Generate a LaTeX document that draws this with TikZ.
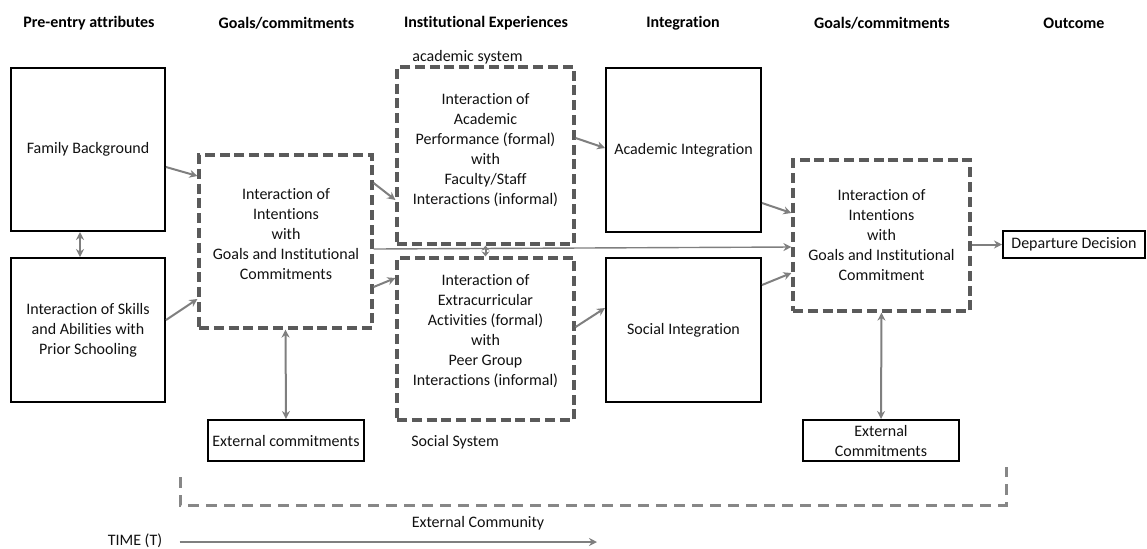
\documentclass[tikz,border=0pt]{standalone}
\usepackage{fontspec}
\setmainfont[Ligatures=NoCommon]{Carlito}
\usetikzlibrary{arrows.meta,calc}
\definecolor{dgray}{HTML}{5A5A5A}
\definecolor{agray}{HTML}{7F7F7F}
\definecolor{bgray}{HTML}{878787}
\definecolor{tcol}{HTML}{111111}
\begin{document}
\begin{tikzpicture}[x=0.5pt,y=-0.5pt,
  font=\fontsize{8}{10}\selectfont, text=tcol,
  solidbox/.style={draw=black,line width=1pt,inner sep=0pt,align=center},
  dashbox/.style={draw=dgray,line width=1.6pt,dash pattern=on 5pt off 2.4pt,inner sep=0pt},
  txt/.style={align=center,inner sep=0pt},
  hdr/.style={font=\fontsize{8}{10}\selectfont\bfseries,inner sep=0pt,text=black},
  arr/.style={draw=agray,line width=1pt,-{Stealth[length=4pt,width=4pt]}},
  darr/.style={draw=agray,line width=1pt,{Stealth[length=4pt,width=4pt]}-{Stealth[length=4pt,width=4pt]}},
  thinarr/.style={draw=agray,line width=0.7pt,-{Stealth[length=4pt,width=4pt]}},
  bracket/.style={draw=bgray,line width=1.5pt,dash pattern=on 5.5pt off 3.5pt}]
\useasboundingbox (0,0) rectangle (1147,548);

% headers
\node[hdr] (h1) at (89,23) {Pre-entry attributes};
\node[hdr] (h2) at (286.5,23) {Goals/commitments};
\node[hdr] (h3) at (486,23) {Institutional Experiences};
\node[hdr] (h4) at (683,23) {Integration};
\node[hdr] (h5) at (882,23) {Goals/commitments};
\node[hdr] (h6) at (1074,23) {Outcome};

% left column
\node[solidbox,minimum width=77pt,minimum height=81.5pt] (fb) at (88,149.5) {Family Background};
\node[solidbox,minimum width=77pt,minimum height=72pt] (sk) at (88,330) {Interaction of Skills\\and Abilities with\\Prior Schooling};

% goals 1
\node[dashbox,minimum width=86.5pt,minimum height=86.5pt] (g1) at (285.5,241.5) {};
\node[txt] (g1t) at (286,234.5) {Interaction of\\Intentions\\with\\Goals and Institutional\\Commitments};
\node[solidbox,minimum width=78pt,minimum height=20.5pt] (ec1) at (286,440.5) {External commitments};

% institutional experiences
\node[dashbox,minimum width=88.5pt,minimum height=88.5pt] (as) at (485.5,155.5) {};
\node[txt] (ast) at (485.5,150.5) {Interaction of\\Academic\\Performance (formal)\\with\\Faculty/Staff\\Interactions (informal)};
\node[dashbox,minimum width=88.5pt,minimum height=81pt] (ss) at (485.5,339) {};
\node[txt] (sst) at (485.5,331) {Interaction of\\Extracurricular\\Activities (formal)\\with\\Peer Group\\Interactions (informal)};
\node[txt,anchor=west] (asl) at (412,57) {academic system};
\node[txt,anchor=west] (ssl) at (411,442) {Social System};

% integration
\node[solidbox,minimum width=77.5pt,minimum height=82pt] (ai) at (683.5,150) {Academic Integration};
\node[solidbox,minimum width=77.5pt,minimum height=72pt] (si) at (683.5,330) {Social Integration};

% goals 2
\node[dashbox,minimum width=88.5pt,minimum height=75.5pt] (g2) at (881.5,235.5) {};
\node[txt] (g2t) at (881.5,235.5) {Interaction of\\Intentions\\with\\Goals and Institutional\\Commitment};
\node[solidbox,minimum width=78pt,minimum height=20.5pt] (ec2) at (881,440.5) {External\\Commitments};

% outcome
\node[solidbox,minimum width=71pt,minimum height=13.5pt] (dd) at (1074,244.5) {Departure Decision};

% connectors
\draw[darr] ($(fb.south)+(-8,0)$) -- ($(sk.north)+(-8,0)$);
\draw[arr] ($(fb.east)+(0,17.5)$) -- ($(g1.west)+(0,-65.5)$);
\draw[arr] ($(sk.east)+(0,-10)$) -- ($(g1.west)+(0,57.5)$);
\draw[arr] ($(g1.east)+(0,-58.5)$) -- ($(as.west)+(0,44.5)$);
\draw[arr] ($(g1.east)+(0,45.5)$) -- ($(ss.west)+(0,-61)$);
\draw[thinarr] ($(g1.east)+(0,7.5)$) -- ($(g2.west)+(0,11.5)$);
\draw[draw=agray,line width=1pt,{Stealth[length=2.5pt,width=4pt]}-{Stealth[length=2.5pt,width=4pt]}] (as.south) -- (ss.north);
\draw[arr] ($(as.east)+(0,-17.5)$) -- ($(ai.west)+(0,-2)$);
\draw[arr] ($(ss.east)+(0,-12)$) -- ($(si.west)+(0,-22)$);
\draw[arr] ($(ai.east)+(0,53)$) -- ($(g2.west)+(0,-22.5)$);
\draw[arr] ($(si.east)+(0,-45)$) -- ($(g2.west)+(0,37.5)$);
\draw[arr] (g2.east |- dd.west) -- (dd.west);
\draw[darr] (g1.south) -- (ec1.north);
\draw[darr] (g2.south) -- (ec2.north);

% external community bracket
\draw[bracket] (180,477) -- (180,505) -- (1006,505) -- (1006,467);
\node[txt] (ecom) at (478,523) {External Community};

% time
\node[txt] (time) at (135,540.5) {TIME (T)};
\coordinate (tend) at (597,542);
\draw[arr] (time.east |- tend) ++(17,0) -- (tend);
\end{tikzpicture}
\end{document}
